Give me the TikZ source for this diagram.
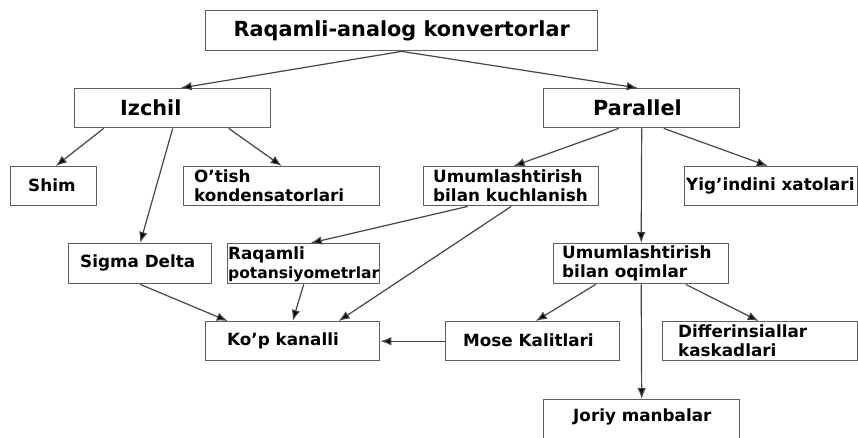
\documentclass[tikz,border=0pt]{standalone}
\usepackage{fontspec}
\setmainfont{DejaVu Sans}
\usetikzlibrary{arrows.meta,calc}
\definecolor{boxgray}{HTML}{5E5E5E}
\definecolor{linegray}{HTML}{454545}
\tikzset{
  box/.style={draw=boxgray, line width=1.4pt, rectangle, inner sep=0pt},
  txt/.style={inner sep=0pt, align=left, font=\fontsize{16.8}{19}\selectfont\bfseries, text=black},
  hdr/.style={inner sep=0pt, font=\fontsize{20.8}{24}\selectfont\bfseries, text=black},
  arr/.style={draw=linegray, line width=1.2pt, -{Latex[length=11pt,width=8.5pt,fill=black]}},
}
\newcommand{\mkbox}[5]{% name, x1, y1, x2, y2
  \node[box, anchor=north west, minimum width={(#4-#2)*1pt}, minimum height={(#5-#3)*1pt}] (#1) at (#2,#3) {};}
\begin{document}
\begin{tikzpicture}[x=1pt,y=-1pt]
\path[use as bounding box] (0,0) rectangle (858,437);
\clip (0,0) rectangle (858,437);
\fill[white] (0,0) rectangle (858,437);
% boxes
\mkbox{title}{205}{10}{597}{50}
\mkbox{izchil}{74}{88}{270}{127}
\mkbox{parallel}{543}{88}{739}{127}
\mkbox{shim}{10}{166}{96}{205}
\mkbox{otish}{183}{166}{379}{205}
\mkbox{kuch}{423}{166}{598}{205}
\mkbox{yig}{684}{166}{857}{205}
\mkbox{sigma}{68}{243}{211}{283}
\mkbox{pot}{227}{243}{379}{283}
\mkbox{kop}{205}{321}{379}{360}
\mkbox{oqim}{553}{243}{728}{283}
\mkbox{mose}{445}{321}{619}{360}
\mkbox{diff}{662}{321}{857}{360}
\mkbox{joriy}{543}{399}{739}{439}
% texts
\node[hdr] (title-t) at (title.center) {Raqamli-analog konvertorlar};
\node[hdr, anchor=west] (izchil-t) at (120,107.5) {Izchil};
\node[hdr, anchor=west] (parallel-t) at (593,107.5) {Parallel};
\node[txt, anchor=west] (shim-t) at (28,185.5) {Shim};
\node[txt, anchor=west] (otish-t) at (194,185.5) {O’tish\\kondensatorlari};
\node[txt, anchor=west] (kuch-t) at (433,185.5) {Umumlashtirish\\bilan kuchlanish};
\node[txt, anchor=west] (yig-t) at (686,185.5) {Yig’indini xatolari};
\node[txt, anchor=west] (sigma-t) at (80,263) {Sigma Delta};
\node[txt, anchor=west] (pot-t) at (228,264) {Raqamli\\{\fontsize{15.5}{17}\selectfont potansiyometrlar}};
\node[txt, anchor=west] (kop-t) at (227,340.5) {Ko’p kanalli};
\node[txt, anchor=west] (oqim-t) at (562,263) {Umumlashtirish\\bilan oqimlar};
\node[txt, anchor=west] (mose-t) at (463,340.5) {Mose Kalitlari};
\node[txt, anchor=west] (diff-t) at (678,340.5) {Differinsiallar\\kaskadlari};
\node[txt, anchor=west] (joriy-t) at (573,417) {Joriy manbalar};
% connectors
\draw[arr] (title.south) -- ([xshift=8pt]izchil.north);
\draw[arr] (title.south) -- ([xshift=-4pt]parallel.north);
\draw[arr] ([xshift=-69pt]izchil.south) -- ([xshift=2pt]shim.north);
\draw[arr] (izchil.south) -- (sigma.north);
\draw[arr] ([xshift=56pt]izchil.south) -- (otish.north);
\draw[arr] ([xshift=-23pt]parallel.south) -- ([xshift=2.5pt]kuch.north);
\draw[arr] (parallel.south) -- (oqim.north);
\draw[arr] ([xshift=22pt]parallel.south) -- ([xshift=-3.5pt]yig.north);
\draw[arr] ([xshift=-43.5pt]kuch.south) -- ([xshift=7pt]pot.north);
\draw[arr] (kuch.south) -- ([xshift=46pt]kop.north);
\draw[arr] (sigma.south) -- ([xshift=-65pt]kop.north);
\draw[arr] (pot.south) -- (kop.north);
\draw[arr] (mose.west) -- (kop.east);
\draw[arr] ([xshift=-45.5pt]oqim.south) -- ([xshift=3pt]mose.north);
\draw[arr] (oqim.south) -- (joriy.north);
\draw[arr] ([xshift=44.5pt]oqim.south) -- ([xshift=-1.5pt]diff.north);
\end{tikzpicture}
\end{document}
